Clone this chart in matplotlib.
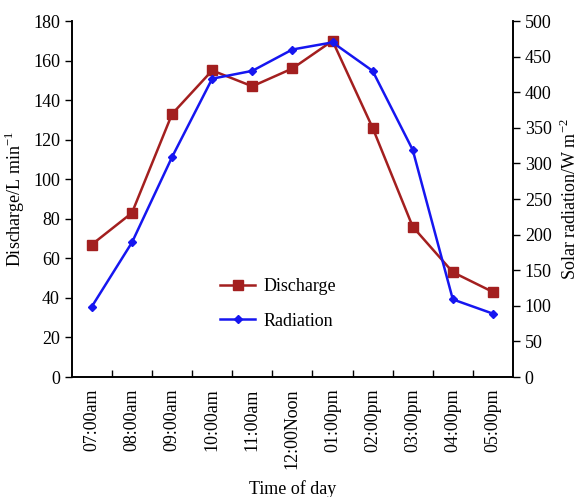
import numpy as np
from matplotlib import pyplot as plt

plt.rcParams['font.family'] = ['Liberation Serif', 'DejaVu Serif']
plt.rcParams['mathtext.fontset'] = 'custom'
plt.rcParams['mathtext.rm'] = 'Liberation Serif'

times = ['07:00am', '08:00am', '09:00am', '10:00am', '11:00am', '12:00Noon',
         '01:00pm', '02:00pm', '03:00pm', '04:00pm', '05:00pm']
discharge = [67, 83, 133, 155, 147, 156, 170, 126, 76, 53, 43]
radiation = [99, 189, 309, 419, 430, 460, 470, 430, 319, 109, 89]

red = '#a31f1f'
blue = '#1616f0'

fig = plt.figure(figsize=(5.79, 4.97), dpi=100)
ax = fig.add_axes([0.124, 0.2414, 0.762, 0.7163])
ax2 = ax.twinx()

x = np.arange(len(times))
l1, = ax.plot(x, discharge, color=red, marker='s', markersize=7, linewidth=1.8, label='Discharge')
l2, = ax2.plot(x, radiation, color=blue, marker='D', markersize=4, linewidth=1.8, label='Radiation')

ax.set_xlim(-0.5, len(times) - 0.5)
ax.set_ylim(0, 180)
ax.set_yticks(range(0, 181, 20))
ax2.set_ylim(0, 500)
ax2.set_yticks(range(0, 501, 50))

ax.set_xticks(x)
ax.set_xticklabels(times, rotation=90)
ax.set_xticks(np.arange(0.5, len(times) - 1, 1), minor=True)
ax.tick_params(axis='x', which='major', length=0, labelsize=13, pad=8)
ax.tick_params(axis='x', which='minor', direction='in', length=5, width=1)
ax.tick_params(axis='y', labelsize=13, length=5, width=1)
ax2.tick_params(axis='y', labelsize=13, length=5, width=1)

for a in (ax, ax2):
    a.spines['top'].set_visible(False)
    for s in a.spines.values():
        s.set_linewidth(1.2)

ax.set_ylabel('Discharge/L min$^{\\mathregular{-1}}$', fontsize=13, labelpad=4)
ax2.set_ylabel('Solar radiation/W m$^{\\mathregular{-2}}$', fontsize=13, labelpad=6)
ax.set_xlabel('Time of day', fontsize=13, labelpad=8)

ax.legend(handles=[l1, l2], loc='center left', bbox_to_anchor=(0.3, 0.205),
          frameon=False, fontsize=13, handlelength=1.9, handletextpad=0.5,
          labelspacing=0.95)

fig.savefig('out.png', dpi=100)
